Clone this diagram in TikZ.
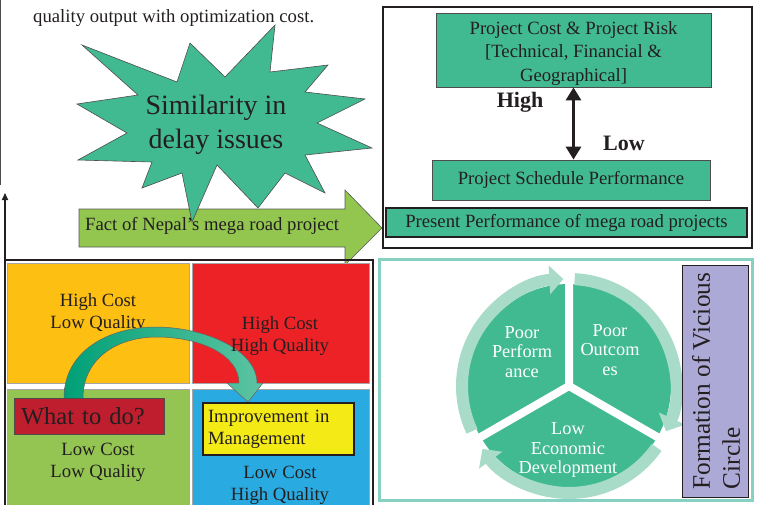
\documentclass[tikz,border=0pt]{standalone}
\usepackage{fontspec}
\setmainfont{Liberation Serif}
\usetikzlibrary{arrows.meta}

\definecolor{ink}{HTML}{231F20}
\definecolor{boxgreen}{HTML}{41BA92}
\definecolor{leafgreen}{HTML}{92C64F}
\definecolor{qorange}{HTML}{FDBF12}
\definecolor{qred}{HTML}{EC2227}
\definecolor{qgreen}{HTML}{94C552}
\definecolor{qblue}{HTML}{29ABE2}
\definecolor{darkred}{HTML}{BE1E2D}
\definecolor{lemon}{HTML}{F4EA16}
\definecolor{lavender}{HTML}{ADA9D6}
\definecolor{ringgreen}{HTML}{A8DCC8}
\definecolor{frameteal}{HTML}{86D1C1}
\definecolor{deepgreen}{HTML}{00A077}

\tikzset{
  txt/.style={font=\fontsize{18.7}{22}\selectfont, text=ink, inner sep=0pt, align=center},
  gbox/.style={draw=ink!80, fill=boxgreen, line width=0.8pt, inner sep=0pt,
    font=\fontsize{18.7}{23.5}\selectfont, text=ink, align=center},
  quad/.style={draw=gray!70, line width=0.6pt},
  frame/.style={draw=ink, line width=1.6pt},
  wtxt/.style={font=\fontsize{18.3}{19.5}\selectfont, text=white, inner sep=0pt, align=center},
  ringarrow/.style={draw=ringgreen, line width=12pt, -{Triangle[width=28pt,length=14pt]}},
  bold/.style={font=\bfseries\fontsize{22}{24}\selectfont, text=ink, inner sep=0pt, anchor=base},
}

\begin{document}
\begin{tikzpicture}[x=1pt,y=-1pt]
\useasboundingbox (0,0) rectangle (761,504);

% ---------- upper left: note, starburst and block arrow ----------
\draw[gray!60!black, line width=1.3pt] (0.7,0) -- (0.7,185);
\node[txt, anchor=base west] (note) at (33,22) {quality output with optimization cost.};

\filldraw[fill=leafgreen, draw=gray!70!black, line width=0.6pt]
  (79,209) -- (345,209) -- (345,190) -- (382,228) -- (345,265) -- (345,247) -- (79,247) -- cycle;

\filldraw[fill=boxgreen, draw=ink!80, line width=0.6pt]
  (82,45) -- (177,82) -- (190,43) -- (225,77) -- (275,25) -- (270,72) -- (328,65)
  -- (305,92) -- (365,99) -- (317,123) -- (372,148) -- (305,155) -- (325,193)
  -- (285,173) -- (258,208) -- (217,165) -- (192,222) -- (182,173) -- (142,188)
  -- (152,162) -- (78,160) -- (127,133) -- (77,104) -- (138,95) -- cycle;
\node[txt, font=\fontsize{28}{34}\selectfont] (similar) at (216,125) {Similarity in\\delay issues};

\node[txt, anchor=base west] (fact) at (85,230) {Fact of Nepal's mega road project};

% ---------- upper right: cost / schedule frame ----------
\draw[frame] (383,7) rectangle (752,248);
\node[gbox, minimum width=275pt, minimum height=74pt] (cost) at (573.5,50)
  {\rule{0pt}{19.6pt}Project Cost \& Project Risk\\\relax [Technical, Financial \&\\Geographical]};
\node[gbox, minimum width=278pt, minimum height=40pt] (sched) at (571,180) {Project Schedule Performance};
\node[gbox, draw=ink, line width=1.3pt, minimum width=361pt, minimum height=29pt] (present) at (566.5,222.5)
  {Present Performance of mega road projects};
\draw[ink, line width=3pt, {Triangle[width=15pt,length=13pt]}-{Triangle[width=15pt,length=13pt]}]
  (cost.south) -- (cost.south |- sched.north);
\node[bold] (high) at (520,107) {High};
\node[bold] (low) at (624,150) {Low};

% ---------- lower left: cost / quality quadrants ----------
\coordinate (axisbase) at (5,260);
\coordinate (axistop) at (5,193);
\draw[ink, line width=1.6pt, -{Triangle[width=6pt,length=7pt]}] (axisbase) -- (axistop);
\draw[frame] (5,506) -- (5,260) -- (373,260) -- (373,506);

\draw[quad, fill=qorange] (7,263) rectangle (189,383);
\draw[quad, fill=qred] (192,263) rectangle (369,383);
\draw[quad, fill=qgreen] (7,389) rectangle (189,506);
\draw[quad, fill=qblue] (192,389) rectangle (369,506);

\node[txt] (hclq) at (98,313) {High Cost\\Low Quality};

\shade[left color=deepgreen, right color=boxgreen!85!white]
  (64,398) .. controls (64,350) and (110,327) .. (155,327)
  .. controls (205,327) and (257,350) .. (257,383)
  -- (263,383) -- (248,402) -- (227,383) -- (239,383)
  .. controls (239,355) and (200,337) .. (157,337)
  .. controls (115,337) and (83,360) .. (83,398) -- cycle;
\draw[ink!70, line width=0.5pt]
  (64,398) .. controls (64,350) and (110,327) .. (155,327)
  .. controls (205,327) and (257,350) .. (257,383)
  -- (263,383) -- (248,402) -- (227,383) -- (239,383)
  .. controls (239,355) and (200,337) .. (157,337)
  .. controls (115,337) and (83,360) .. (83,398);

\node[txt] (hchq) at (280,336) {High Cost\\High Quality};
\node[txt] (lclq) at (98,462) {Low Cost\\Low Quality};
\node[txt] (lchq) at (280,485) {Low Cost\\High Quality};

\node[draw=gray!60!black, fill=darkred, line width=0.6pt, minimum height=36pt,
  text width=136pt, align=left, inner xsep=7pt, inner ysep=0pt,
  font=\fontsize{24.5}{28}\selectfont, text=ink] (todo) at (89,416) {What to do?};
\node[draw=ink, fill=lemon, line width=1.5pt, minimum height=52pt,
  text width=141pt, align=left, inner xsep=5pt, inner ysep=0pt,
  font=\fontsize{18.7}{22}\selectfont, text=ink] (improve) at (278.5,429) {Improvement in\\Management};

% ---------- lower right: vicious circle ----------
\draw[frameteal, line width=3pt] (379,259) rectangle (752,500);

\begin{scope}[shift={(569,386)}, yscale=-1]
  \fill[boxgreen] (0,0) -- (90:102) arc[start angle=90, end angle=210, radius=102] -- cycle;
  \fill[boxgreen] (0,0) -- (-30:102) arc[start angle=-30, end angle=90, radius=102] -- cycle;
  \fill[boxgreen] (0,0) -- (210:102) arc[start angle=210, end angle=330, radius=102] -- cycle;
  \draw[white, line width=8pt] (0,0) -- (90:118) (0,0) -- (210:118) (0,0) -- (330:118);
  \draw[ringarrow] (205:107) arc[start angle=205, end angle=93, radius=107];
  \draw[ringarrow] (87:107) arc[start angle=87, end angle=-25, radius=107];
  \draw[ringarrow] (-35:107) arc[start angle=-35, end angle=-144, radius=107];
\end{scope}

\node[wtxt] (perf) at (522,352) {Poor\\Perform\\ance};
\node[wtxt] (outc) at (610,350) {Poor\\Outcom\\es};
\node[wtxt] (econ) at (568,450) {Low\\Economic\\Development};

\node[draw=ink, fill=lavender, line width=0.8pt, minimum width=66pt, minimum height=232pt] (vbox) at (715,381) {};
\node[rotate=90, align=left, inner sep=0pt, text=ink, font=\fontsize{25.3}{30}\selectfont]
  (vtext) at (716,381) {Formation of Vicious\\Circle};
\end{tikzpicture}
\end{document}
